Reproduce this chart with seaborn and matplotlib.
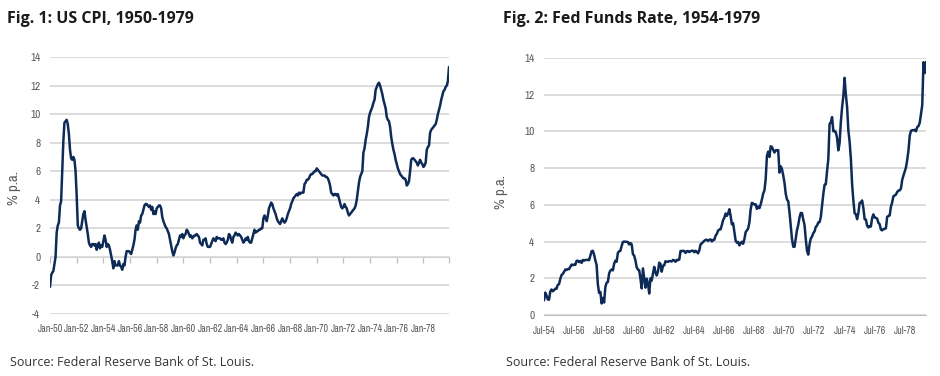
import numpy as np
import pandas as pd
import seaborn as sns
import matplotlib.pyplot as plt

# US CPI, % change on a year earlier, monthly Jan-1950 .. Dec-1979
cpi_yoy = [
    -2.1, -1.3, -1.1, -1.0, -0.5, 0.0, 1.7, 2.2, 2.4, 3.6, 3.9, 5.9,      # 1950
    8.1, 9.4, 9.5, 9.6, 9.3, 8.6, 7.5, 6.9, 6.8, 7.0, 6.8, 6.0,           # 1951
    4.3, 2.2, 2.0, 1.9, 2.0, 2.5, 3.0, 3.2, 2.6, 2.1, 1.6, 1.0,           # 1952
    0.8, 0.7, 0.9, 0.9, 0.8, 0.9, 0.5, 0.8, 1.0, 0.6, 0.8, 0.7,           # 1953
    1.1, 1.5, 1.2, 0.7, 0.9, 0.8, 0.5, 0.1, -0.3, -0.8, -0.3, -0.6,       # 1954
    -0.6, -0.6, -0.3, -0.6, -0.7, -0.9, -0.5, -0.6, 0.0, 0.4, 0.4, 0.4,   # 1955
    0.3, 0.2, 0.5, 0.8, 1.2, 1.9, 2.2, 1.9, 2.5, 2.4, 2.9, 3.0,           # 1956
    3.3, 3.6, 3.7, 3.7, 3.6, 3.5, 3.6, 3.3, 3.5, 3.0, 3.2, 3.0,           # 1957
    3.4, 3.5, 3.6, 3.6, 3.4, 2.8, 2.5, 2.3, 2.1, 2.0, 1.8, 1.6,           # 1958
    1.2, 0.8, 0.4, 0.1, 0.3, 0.6, 0.8, 0.9, 1.2, 1.5, 1.4, 1.6,           # 1959
    1.3, 1.5, 1.6, 1.9, 1.8, 1.6, 1.4, 1.5, 1.3, 1.4, 1.5, 1.5,           # 1960
    1.6, 1.5, 1.4, 1.0, 0.9, 0.8, 1.2, 1.2, 1.3, 0.9, 0.7, 0.7,           # 1961
    0.7, 0.9, 1.1, 1.3, 1.2, 1.1, 1.4, 1.3, 1.3, 1.3, 1.2, 1.2,           # 1962
    1.3, 1.0, 0.9, 1.0, 1.2, 1.6, 1.5, 1.2, 1.0, 1.4, 1.5, 1.7,           # 1963
    1.6, 1.5, 1.6, 1.5, 1.4, 1.2, 1.0, 1.1, 1.3, 1.2, 1.4, 1.1,           # 1964
    1.0, 1.0, 1.3, 1.6, 1.9, 1.7, 1.8, 1.8, 1.9, 1.9, 2.0, 2.0,           # 1965
    2.7, 2.9, 2.7, 2.5, 2.9, 3.4, 3.6, 3.8, 3.7, 3.4, 3.2, 3.0,           # 1966
    2.7, 2.5, 2.4, 2.3, 2.5, 2.7, 2.5, 2.4, 2.5, 2.7, 3.0, 3.2,           # 1967
    3.4, 3.7, 3.9, 4.1, 4.2, 4.3, 4.4, 4.3, 4.5, 4.4, 4.5, 4.5,           # 1968
    4.5, 5.1, 5.2, 5.4, 5.4, 5.5, 5.7, 5.8, 5.8, 5.9, 6.0, 6.0,           # 1969
    6.2, 6.1, 6.0, 5.9, 5.8, 5.7, 5.7, 5.7, 5.6, 5.6, 5.5, 5.3,           # 1970
    5.0, 4.5, 4.4, 4.3, 4.4, 4.4, 4.3, 4.4, 4.1, 3.8, 3.5, 3.4,           # 1971
    3.5, 3.7, 3.5, 3.4, 3.1, 2.9, 3.0, 3.1, 3.2, 3.3, 3.4, 3.6,           # 1972
    4.0, 4.6, 5.2, 5.6, 5.8, 6.0, 7.3, 7.6, 8.2, 8.6, 9.1, 9.8,           # 1973
    10.1, 10.3, 10.5, 10.8, 11.0, 11.7, 11.9, 12.1, 12.2, 12.0, 11.7, 11.4,  # 1974
    11.0, 10.7, 10.4, 9.8, 9.6, 9.5, 9.1, 8.4, 7.9, 7.5, 7.2, 6.8,        # 1975
    6.5, 6.2, 6.0, 5.8, 5.7, 5.6, 5.5, 5.5, 5.4, 5.0, 5.1, 5.3,           # 1976
    6.0, 6.8, 6.9, 6.9, 6.8, 6.7, 6.6, 6.4, 6.6, 6.8, 6.6, 6.5,           # 1977
    6.3, 6.4, 6.6, 7.5, 7.7, 7.8, 8.7, 8.9, 9.0, 9.1, 9.2, 9.3,           # 1978
    9.6, 10.0, 10.3, 10.6, 11.0, 11.3, 11.6, 11.7, 11.9, 12.0, 12.3, 13.3,  # 1979
]

# effective fed funds rate, monthly Jul-1954 .. Dec-1979
fed_funds = [
    0.80, 1.22, 1.07, 0.85, 0.83, 1.28,                                   # 1954 H2
    1.39, 1.29, 1.35, 1.43, 1.43, 1.64, 1.68, 1.96, 2.18, 2.24, 2.35, 2.48,  # 1955
    2.45, 2.50, 2.50, 2.62, 2.75, 2.71, 2.75, 2.73, 2.95, 2.96, 2.88, 2.94,  # 1956
    2.84, 3.00, 2.96, 3.00, 3.00, 3.00, 2.99, 3.24, 3.47, 3.50, 3.28, 2.98,  # 1957
    2.72, 1.67, 1.20, 1.26, 0.63, 0.93, 0.68, 1.53, 1.76, 1.80, 2.27, 2.42,  # 1958
    2.48, 2.43, 2.80, 2.96, 2.90, 3.39, 3.47, 3.50, 3.76, 3.98, 4.00, 3.99,  # 1959
    3.99, 3.97, 3.84, 3.92, 3.85, 3.32, 3.23, 2.98, 2.60, 2.47, 2.44, 1.98,  # 1960
    1.45, 2.54, 2.02, 1.49, 1.98, 1.73, 1.17, 2.00, 1.88, 2.26, 2.62, 2.33,  # 1961
    2.15, 2.37, 2.85, 2.78, 2.36, 2.68, 2.71, 2.93, 2.90, 2.90, 2.94, 2.93,  # 1962
    2.92, 3.00, 2.98, 2.90, 3.00, 2.99, 3.02, 3.49, 3.48, 3.50, 3.48, 3.38,  # 1963
    3.48, 3.48, 3.43, 3.47, 3.50, 3.50, 3.42, 3.50, 3.45, 3.36, 3.52, 3.85,  # 1964
    3.90, 3.98, 4.04, 4.09, 4.10, 4.04, 4.09, 4.12, 4.01, 4.08, 4.10, 4.32,  # 1965
    4.42, 4.60, 4.65, 4.67, 4.90, 5.17, 5.30, 5.53, 5.40, 5.53, 5.76, 5.40,  # 1966
    4.94, 5.00, 4.53, 4.05, 3.94, 3.98, 3.79, 3.90, 3.99, 3.88, 4.13, 4.51,  # 1967
    4.61, 4.71, 5.05, 5.76, 6.11, 6.07, 6.02, 6.03, 5.78, 5.91, 5.82, 6.02,  # 1968
    6.30, 6.61, 6.79, 7.41, 8.67, 8.90, 8.61, 9.19, 9.15, 9.00, 8.85, 8.97,  # 1969
    8.98, 8.98, 7.76, 8.10, 7.95, 7.61, 7.21, 6.61, 6.29, 6.20, 5.60, 4.90,  # 1970
    4.14, 3.72, 3.71, 4.16, 4.63, 4.91, 5.31, 5.56, 5.55, 5.20, 4.91, 4.14,  # 1971
    3.50, 3.29, 3.83, 4.17, 4.27, 4.46, 4.55, 4.80, 4.87, 5.04, 5.06, 5.33,  # 1972
    5.94, 6.58, 7.09, 7.12, 7.84, 8.49, 10.40, 10.50, 10.78, 10.01, 10.03, 9.95,  # 1973
    9.65, 8.97, 9.35, 10.51, 11.31, 11.93, 12.92, 12.01, 11.34, 10.06, 9.45, 8.53,  # 1974
    7.13, 6.24, 5.54, 5.49, 5.22, 5.55, 6.10, 6.14, 6.24, 5.82, 5.22, 5.20,  # 1975
    4.87, 4.77, 4.84, 4.82, 5.29, 5.48, 5.31, 5.29, 5.25, 5.02, 4.95, 4.65,  # 1976
    4.61, 4.68, 4.69, 4.73, 5.35, 5.39, 5.42, 5.90, 6.14, 6.47, 6.51, 6.56,  # 1977
    6.70, 6.78, 6.79, 6.89, 7.36, 7.60, 7.81, 8.04, 8.45, 8.96, 9.76, 10.03,  # 1978
    10.07, 10.06, 10.09, 10.01, 10.24, 10.29, 10.47, 10.94, 11.43, 13.77, 13.18, 13.78,  # 1979
]

cpi_ticks = ['Jan-%02d' % y for y in range(50, 80, 2)]
ff_ticks = ['Jul-%02d' % y for y in range(54, 80, 2)]

cpi_df = pd.DataFrame({'date': pd.date_range('1950-01-01', periods=len(cpi_yoy), freq='MS'),
                       'value': cpi_yoy})
ff_df = pd.DataFrame({'date': pd.date_range('1954-07-01', periods=len(fed_funds), freq='MS'),
                      'value': fed_funds})
for d in (cpi_df, ff_df):
    d['t'] = d['date'].dt.year + (d['date'].dt.month - 1) / 12

sns.set_style('white')
narrow = ['Archivo Narrow', 'DejaVu Sans']
plt.rcParams['font.family'] = narrow
plt.rcParams['axes.unicode_minus'] = False

navy = '#0e2b57'
grid_c = '#d9d9d9'
lab_c = '#595959'
axis_c = '#bfbfbf'

fig = plt.figure(figsize=(9.4, 3.76), dpi=100)
ax1 = fig.add_axes([50 / 940, 1 - 314 / 376, 399 / 940, 257 / 376])
ax2 = fig.add_axes([544 / 940, 1 - 315 / 376, 382 / 940, 257 / 376])

sns.lineplot(data=cpi_df, x='t', y='value', ax=ax1, color=navy, lw=1.8)
sns.lineplot(data=ff_df, x='t', y='value', ax=ax2, color=navy, lw=1.8)

# fig 1: labels at the bottom, axis line + tick marks at zero
ax1.set_xlim(cpi_df['t'].iloc[0], cpi_df['t'].iloc[-1])
ax1.set_ylim(-4, 14)
ax1.set_yticks(range(-4, 15, 2))
ax1.set_xticks(np.arange(1950, 1980, 2))
ax1.set_xticklabels(cpi_ticks)
ax1.tick_params(axis='x', length=0, pad=7)
zero_ax = ax1.secondary_xaxis(4 / 18)
zero_ax.set_xticks(list(np.arange(1950, 1980, 2)) + [cpi_df['t'].iloc[-1]])
zero_ax.set_xticklabels([])
zero_ax.tick_params(length=4, color=axis_c, width=0.9)
zero_ax.spines['bottom'].set_color(axis_c)

# fig 2
ax2.set_xlim(ff_df['t'].iloc[0], ff_df['t'].iloc[-1])
ax2.set_ylim(0, 14)
ax2.set_yticks(range(0, 15, 2))
ax2.set_xticks(list(np.arange(1954.5, 1980, 2)) + [ff_df['t'].iloc[-1]])
ax2.set_xticklabels(ff_ticks + [''])
ax2.tick_params(axis='x', length=4, color=axis_c, width=0.9, pad=4)

for ax in (ax1, ax2):
    for s in ax.spines.values():
        s.set_visible(False)
    ax.yaxis.grid(True, color=grid_c, lw=1.3)
    ax.xaxis.grid(False)
    ax.tick_params(axis='y', length=0, pad=7, labelsize=8)
    ax.tick_params(axis='x', labelsize=7.2)
    ax.tick_params(labelcolor=lab_c)
    ax.set_xlabel('')
    ax.set_ylabel('% p.a.', fontsize=10.5, color=lab_c)
ax2.spines['bottom'].set_visible(True)
ax2.spines['bottom'].set_color(axis_c)
ax1.yaxis.set_label_coords(-0.072, 0.49)
ax2.yaxis.set_label_coords(-0.094, 0.48)

title_font = ['Open Sans', 'DejaVu Sans']
fig.text(7 / 940, 1 - 23 / 376, 'Fig. 1: US CPI, 1950-1979', fontsize=11.5,
         fontweight='bold', color='#1a1a1a', family=title_font, va='baseline')
fig.text(503 / 940, 1 - 23 / 376, 'Fig. 2: Fed Funds Rate, 1954-1979', fontsize=11.5,
         fontweight='bold', color='#1a1a1a', family=title_font, va='baseline')
fig.text(10 / 940, 1 - 366 / 376, 'Source: Federal Reserve Bank of St. Louis.', fontsize=9,
         color='#333333', family=title_font, va='baseline')
fig.text(506 / 940, 1 - 366 / 376, 'Source: Federal Reserve Bank of St. Louis.', fontsize=9,
         color='#333333', family=title_font, va='baseline')

fig.savefig('out.png', dpi=100)
